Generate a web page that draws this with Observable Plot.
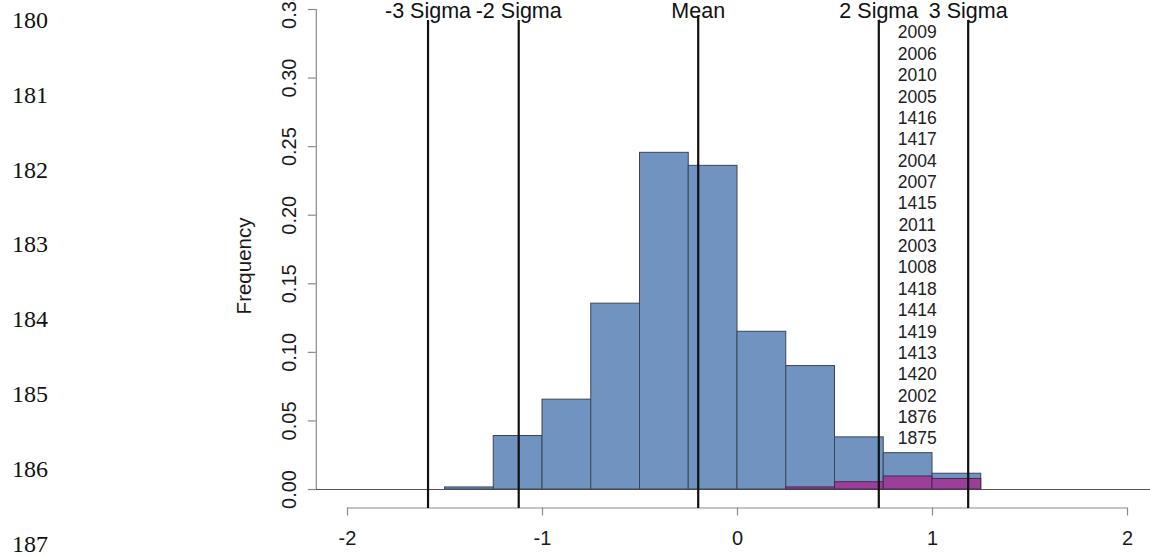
<!DOCTYPE html>
<html>
<head>
<meta charset="utf-8">
<script src="https://cdn.jsdelivr.net/npm/d3@7"></script>
<script src="https://cdn.jsdelivr.net/npm/@observablehq/plot@0.6"></script>
<style>
  html, body { margin: 0; padding: 0; background: #fff; }
  #wrap { position: relative; width: 1150px; height: 556px; overflow: hidden; }
  #chart { position: absolute; left: 0; top: 0; }
  .ln { position: absolute; left: 0; width: 48px; text-align: right;
        font-family: "Liberation Serif", "DejaVu Serif", serif; font-size: 24px;
        line-height: 24px; color: #111; font-variant-numeric: oldstyle-nums; }
</style>
</head>
<body>
<div id="wrap"><div id="chart"></div></div>
<script>
// ---- data ----
const lineNumbers = ["180", "181", "182", "183", "184", "185", "186", "187"];
const binBreaks = [-1.5, -1.25, -1, -0.75, -0.5, -0.25, 0, 0.25, 0.5, 0.75, 1, 1.25];
const allFreq = [0.0015, 0.039, 0.0655, 0.1355, 0.2455, 0.236, 0.115, 0.090, 0.038, 0.0265, 0.0115];
const subFreq = [0, 0, 0, 0, 0, 0, 0, 0.0015, 0.0053, 0.0095, 0.0077];
const sigmaLabels = ["-3 Sigma", "-2 Sigma", "Mean", "2 Sigma", "3 Sigma"];
const sigmaValues = [-1.587, -1.122, -0.2015, 0.7246, 1.183];
const yearLabels = ["2009", "2006", "2010", "2005", "1416", "1417", "2004", "2007", "1415", "2011",
                    "2003", "1008", "1418", "1414", "1419", "1413", "1420", "2002", "1876", "1875"];
const yTicks = [0, 0.05, 0.10, 0.15, 0.20, 0.25, 0.30, 0.35];
const xTicks = [-2, -1, 0, 1, 2];

// ---- tables ----
const bins = allFreq.map((f, i) => ({x1: binBreaks[i], x2: binBreaks[i + 1], all: f, sub: subFreq[i]}));
const subBins = bins.filter(d => d.sub > 0);
const sigmas = sigmaLabels.map((s, i) => ({label: s, x: sigmaValues[i]}));
const years = yearLabels.map((t, i) => ({t, y: 0.333 - i * 0.01558}));

const font = "Liberation Sans, Arial, sans-serif";
const yAxisX = -2.16;
const xAxisY = -0.0135;

const chart = Plot.plot({
  width: 1150, height: 556,
  marginLeft: 0, marginRight: 0, marginTop: 0, marginBottom: 0,
  x: {domain: [-2, 2], range: [347, 1127], axis: null},
  y: {domain: [0, 0.35], range: [489, 9], axis: null},
  style: {fontFamily: font, background: "white", overflow: "visible"},
  marks: [
    // baseline at 0
    Plot.ruleY([0], {x1: yAxisX, x2: 2.2, stroke: "#555", strokeWidth: 1.2}),
    // histogram bars
    Plot.rectY(bins, {x1: "x1", x2: "x2", y: "all", fill: "#7093c0", stroke: "#3b4557", strokeWidth: 1}),
    Plot.rectY(subBins, {x1: "x1", x2: "x2", y: "sub", fill: "#9b3f9b", stroke: "#4a2a4a", strokeWidth: 1}),
    // y axis
    Plot.ruleX([yAxisX], {y1: 0, y2: 0.35, stroke: "#8a8a8a", strokeWidth: 1.2}),
    Plot.ruleY(yTicks, {y: d => d, x1: yAxisX, x2: yAxisX - 8 / 195, stroke: "#8a8a8a", strokeWidth: 1.2}),
    Plot.text(yTicks, {x: yAxisX, y: d => d, text: d => d3.format(".2f")(d), dx: -27, rotate: -90,
      fontSize: 20, fill: "#1a1a1a", textAnchor: "middle", lineAnchor: "middle"}),
    Plot.text(["Frequency"], {x: yAxisX, y: 0.163, text: d => d, dx: -72, rotate: -90,
      fontSize: 20.5, fill: "#1a1a1a", textAnchor: "middle", lineAnchor: "middle"}),
    // x axis
    Plot.ruleY([xAxisY], {x1: -2, x2: 2, stroke: "#8a8a8a", strokeWidth: 1.2}),
    Plot.ruleX(xTicks, {x: d => d, y1: xAxisY, y2: xAxisY - 8 / 1372, stroke: "#8a8a8a", strokeWidth: 1.2}),
    Plot.text(xTicks, {x: d => d, y: xAxisY, text: d => String(d), dy: 31,
      fontSize: 20, fill: "#1a1a1a", textAnchor: "middle", lineAnchor: "middle"}),
    // sigma lines
    Plot.ruleX(sigmas, {x: "x", y1: -0.0138, y2: d => d.label === "Mean" ? 0.3455 : 0.342,
      stroke: "#111", strokeWidth: 2.2}),
    Plot.text(sigmas, {x: "x", y: 0.35, text: "label", fontSize: 21.5, fill: "#111",
      textAnchor: "middle", lineAnchor: "middle", dy: 2}),
    // year labels
    Plot.text(years, {x: 0.9215, y: "y", text: "t", fontSize: 17.5, fill: "#222",
      textAnchor: "middle", lineAnchor: "middle"})
  ]
});
document.getElementById("chart").appendChild(chart);

// document line numbers at left margin
const wrap = document.getElementById("wrap");
lineNumbers.forEach((n, i) => {
  const d = document.createElement("div");
  d.className = "ln";
  d.textContent = n;
  d.style.top = (8 + i * 74.8) + "px";
  wrap.appendChild(d);
});
</script>
</body>
</html>
